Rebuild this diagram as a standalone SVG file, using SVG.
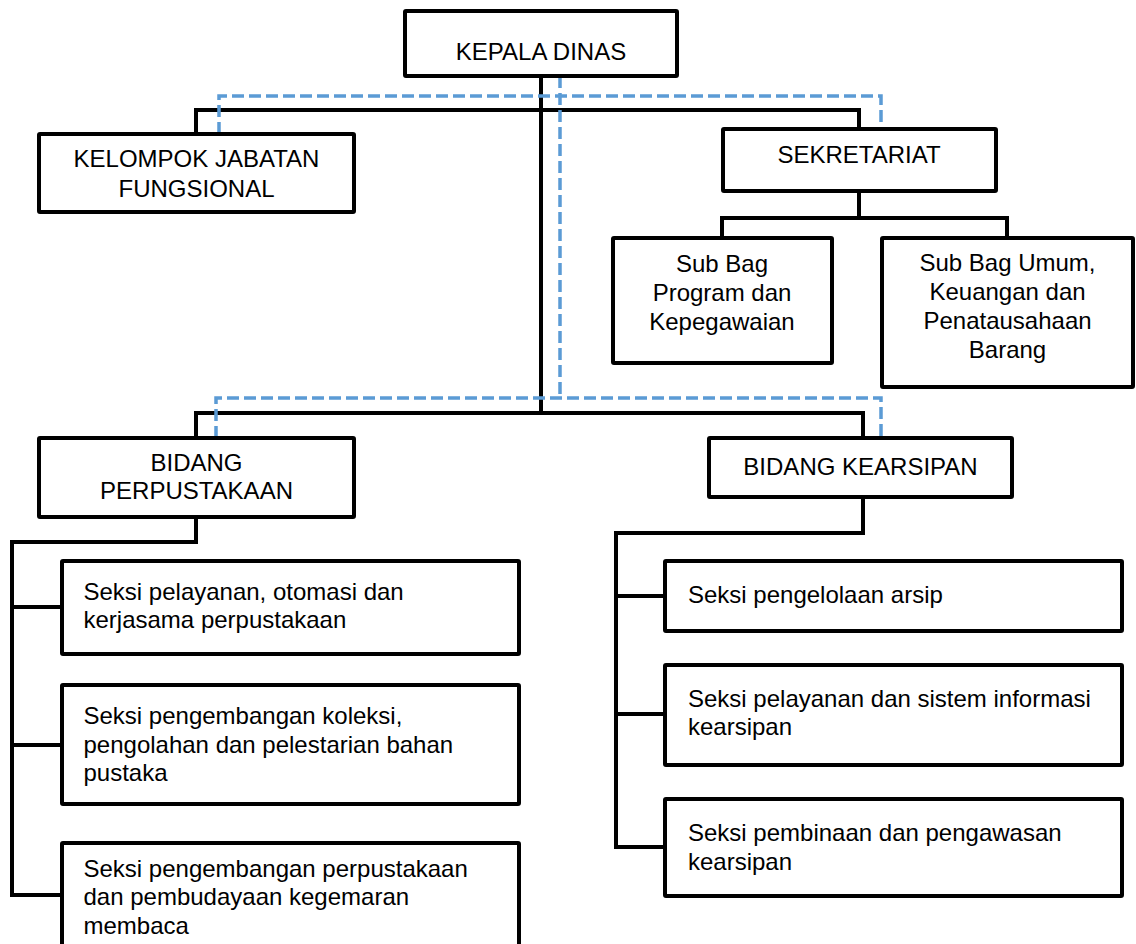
<svg xmlns="http://www.w3.org/2000/svg" width="1136" height="944" viewBox="0 0 1136 944">
<style>
.box{fill:#fff;stroke:#000;stroke-width:4;}
.ln{fill:none;stroke:#000;stroke-width:4;stroke-linejoin:miter;}
.ds{fill:none;stroke:#5B9BD5;stroke-width:3.5;stroke-dasharray:12 5;}
text{font-family:"Liberation Sans",Arial,sans-serif;font-size:24px;fill:#000;}
.c{text-anchor:middle;}
</style>
<rect width="1136" height="944" fill="#fff"/>
<g id="connectors">
<path class="ln" d="M541,76 V413"/>
<path class="ln" d="M196,134 V110 H859 V129"/>
<path class="ln" d="M196,438 V413 H863 V438"/>
<path class="ln" d="M859,191 V218 M722,238 V218 H1007 V238"/>
<path class="ln" d="M196,517 V542 H12 V895 H62 M12,607 H62 M12,745 H62"/>
<path class="ln" d="M863,497 V533 H616 V847 H665 M616,596 H665 M616,714 H665"/>
<path class="ds" d="M560,76 V398"/>
<path class="ds" d="M219,134 V96 H881 V129"/>
<path class="ds" d="M216,438 V398 H881 V438"/>
</g>
<g id="kepala"><rect class="box" x="405" y="11" width="272" height="65" rx="1"/><text class="c" x="541" y="60">KEPALA DINAS</text></g>
<g id="kelompok"><rect class="box" x="39" y="134" width="315" height="78" rx="1"/><text class="c" x="196.5" y="167">KELOMPOK JABATAN</text><text class="c" x="196.5" y="196.5">FUNGSIONAL</text></g>
<g id="sekretariat"><rect class="box" x="723" y="129" width="273" height="62" rx="1"/><text class="c" x="859" y="163">SEKRETARIAT</text></g>
<g id="subbag-program"><rect class="box" x="613" y="238" width="219" height="125" rx="1"/><text class="c" x="722" y="271.5">Sub Bag</text><text class="c" x="722" y="301">Program dan</text><text class="c" x="722" y="330">Kepegawaian</text></g>
<g id="subbag-umum"><rect class="box" x="882" y="238" width="251" height="149" rx="1"/><text class="c" x="1007.5" y="271">Sub Bag Umum,</text><text class="c" x="1007.5" y="300">Keuangan dan</text><text class="c" x="1007.5" y="329">Penatausahaan</text><text class="c" x="1007.5" y="357.5">Barang</text></g>
<g id="bidang-perpustakaan"><rect class="box" x="39" y="438" width="315" height="79" rx="1"/><text class="c" x="196.5" y="470.5">BIDANG</text><text class="c" x="196.5" y="498.5">PERPUSTAKAAN</text></g>
<g id="bidang-kearsipan"><rect class="box" x="709" y="438" width="303" height="59" rx="1"/><text class="c" x="860.5" y="474.5">BIDANG KEARSIPAN</text></g>
<g id="seksi-l1"><rect class="box" x="62" y="561" width="457" height="93" rx="1"/><text x="83.5" y="600">Seksi pelayanan, otomasi dan</text><text x="83.5" y="627.5">kerjasama perpustakaan</text></g>
<g id="seksi-l2"><rect class="box" x="62" y="685" width="457" height="119" rx="1"/><text x="83.5" y="724">Seksi pengembangan koleksi,</text><text x="83.5" y="752.5">pengolahan dan pelestarian bahan</text><text x="83.5" y="780.5">pustaka</text></g>
<g id="seksi-l3"><rect class="box" x="62" y="843" width="457" height="112" rx="1"/><text x="83.5" y="876.5">Seksi pengembangan perpustakaan</text><text x="83.5" y="905">dan pembudayaan kegemaran</text><text x="83.5" y="933.5">membaca</text></g>
<g id="seksi-r1"><rect class="box" x="665" y="561" width="457" height="70" rx="1"/><text x="688" y="602.5">Seksi pengelolaan arsip</text></g>
<g id="seksi-r2"><rect class="box" x="665" y="665" width="457" height="100" rx="1"/><text x="688" y="706.5">Seksi pelayanan dan sistem informasi</text><text x="688" y="735">kearsipan</text></g>
<g id="seksi-r3"><rect class="box" x="665" y="799" width="457" height="97" rx="1"/><text x="688" y="841">Seksi pembinaan dan pengawasan</text><text x="688" y="869.5">kearsipan</text></g>
</svg>
